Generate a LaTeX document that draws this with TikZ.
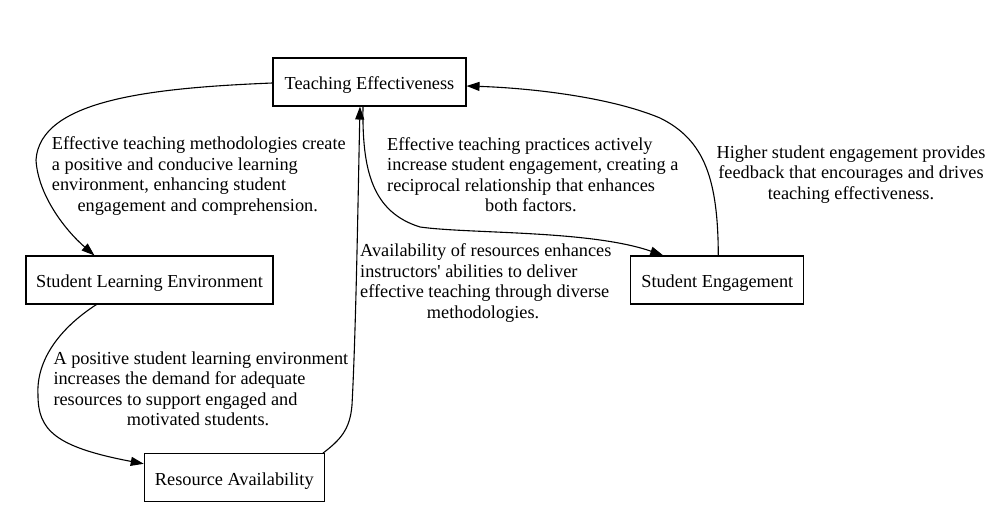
\documentclass[tikz,border=0pt]{standalone}
\usepackage{fontspec}
\setmainfont{Liberation Serif}[Ligatures=TeXOff]
\usetikzlibrary{arrows.meta,calc}
\begin{document}
\begin{tikzpicture}[x=1pt,y=-1pt,
  txt/.style={font=\fontsize{18.3}{20.5}\selectfont},
  box/.style={txt, draw, line width=1.1pt, minimum height=48pt, inner sep=0pt, text height=17pt, text depth=2pt},
  lbl/.style={txt, inner sep=0pt, anchor=north west, align=left},
  edge/.style={line width=1.1pt, -{Triangle[length=13pt,width=9pt]}}]
\useasboundingbox (0,0) rectangle (1005,529);
\node[box, minimum width=193pt] (te) at (369.5,82) {Teaching Effectiveness};
\node[box, minimum width=247pt] (sle) at (149.5,280) {Student Learning Environment};
\node[box, minimum width=180pt] (ra) at (234.3,477.8) {Resource Availability};
\node[box, minimum width=173pt] (se) at (717.3,280) {Student Engagement};

\draw[edge] ($(te.west)+(0,1)$) .. controls (150,88) and (40,100) .. (36,160) .. controls (38,195) and (65,230) .. ($(sle.north west)+(69,0)$);
\draw[edge] ($(sle.south west)+(71,0)$) .. controls (60,328) and (36,360) .. (38,395) .. controls (38,430) and (55,447) .. ($(ra.west)+(0,-14)$);
\draw[edge] ($(ra.north east)+(-2,0)$) .. controls (340,440) and (350,430) .. (352,405) .. controls (356,330) and (358,200) .. ($(te.south)+(-9.5,0)$);
\draw[edge] ($(te.south)+(-6.5,0)$) .. controls (362,170) and (372,212) .. (420,227) .. controls (470,234) and (590,230) .. ($(se.north west)+(33,0)$);
\draw[edge] ($(se.north)+(1,0)$) .. controls (718,180) and (705,140) .. (660,118) .. controls (610,97) and (530,88) .. ($(te.east)+(0,4)$);

\node[lbl] (l1) at (51.7,136.5) {Effective teaching methodologies create\\a positive and conducive learning\\environment, enhancing student\\\hspace*{25.6pt}engagement and comprehension.};
\node[lbl] (l2) at (387,137) {Effective teaching practices actively\\increase student engagement, creating a\\reciprocal relationship that enhances\\\hspace*{98pt}both factors.};
\node[lbl] (l3) at (360,243.5) {Availability of resources enhances\\instructors' abilities to deliver\\effective teaching through diverse\\\hspace*{66.7pt}methodologies.};
\node[lbl] (l4) at (53.3,351.5) {A positive student learning environment\\increases the demand for adequate\\resources to support engaged and\\\hspace*{73.4pt}motivated students.};
\node[txt, inner sep=0pt, anchor=north, align=center] (l5) at (851,145.5) {Higher student engagement provides\\feedback that encourages and drives\\teaching effectiveness.};
\end{tikzpicture}
\end{document}
